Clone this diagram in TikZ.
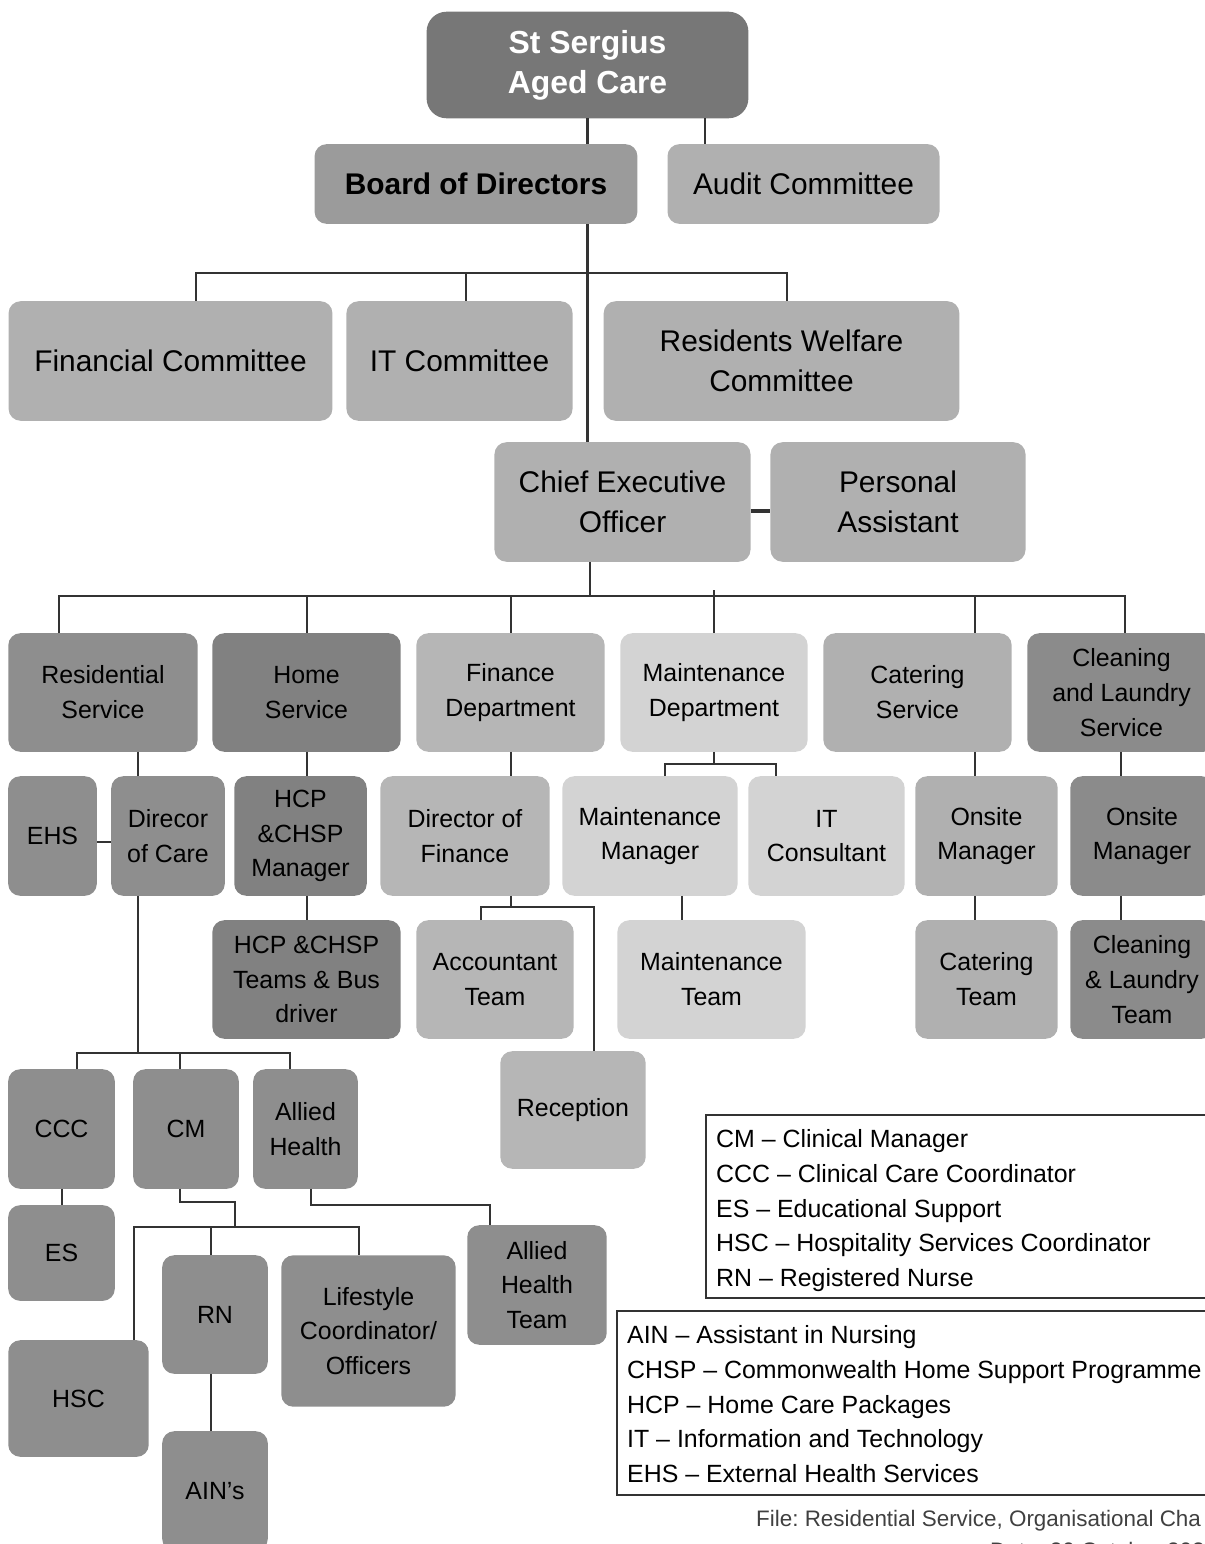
\documentclass[tikz,border=0pt]{standalone}
\usepackage{fontspec}
\setmainfont{Liberation Sans}
\usetikzlibrary{calc}
\frenchspacing

\definecolor{titlegray}{HTML}{777777}
\definecolor{boardgray}{HTML}{9B9B9B}
\definecolor{lightgray}{HTML}{B0B0B0}
\definecolor{resgray}{HTML}{8E8E8E}
\definecolor{homegray}{HTML}{818181}
\definecolor{fingray}{HTML}{B6B6B6}
\definecolor{maintgray}{HTML}{D3D3D3}
\definecolor{cleangray}{HTML}{8B8B8B}
\definecolor{linegray}{HTML}{333333}

\newcommand{\bigtext}{\fontsize{30}{40}\selectfont}
\newcommand{\smalltext}{\fontsize{25}{35}\selectfont}

\begin{document}
\begin{tikzpicture}[x=1bp, y=-1bp,
  box/.style={rounded corners=12, inner sep=0pt, align=center, text=black, font=\smalltext},
  bigbox/.style={box, font=\bigtext},
  link/.style={draw=linegray, line width=2.4},
  legend/.style={anchor=base west, inner sep=0pt, font=\smalltext}]

\useasboundingbox (0,0) rectangle (1204,1544);

% Top of the chart
\node[bigbox, fill=titlegray, text=white, font=\fontsize{32}{40}\selectfont\bfseries, rounded corners=20,
  minimum width=323, minimum height=107] (root) at (587.5,65) {St Sergius\\Aged Care};
\node[bigbox, fill=boardgray, font=\bigtext\bfseries, minimum width=324, minimum height=80] (board) at (476,184) {Board of Directors};
\node[bigbox, fill=lightgray, minimum width=273, minimum height=80] (audit) at (803.5,184) {Audit Committee};

% Committees
\node[bigbox, fill=lightgray, minimum width=325, minimum height=120] (fincom) at (170.5,361) {Financial Committee};
\node[bigbox, fill=lightgray, minimum width=227, minimum height=120] (itcom) at (459.5,361) {IT Committee};
\node[bigbox, fill=lightgray, minimum width=357, minimum height=120] (welfare) at (781.5,361) {Residents Welfare\\Committee};

% CEO and assistant
\node[bigbox, fill=lightgray, minimum width=257, minimum height=120] (ceo) at (622.5,502) {Chief Executive\\Officer};
\node[bigbox, fill=lightgray, minimum width=256, minimum height=120] (pa) at (898,502) {Personal\\Assistant};

% Departments
\node[box, fill=resgray, minimum width=190, minimum height=119] (res) at (103,692.5) {Residential\\Service};
\node[box, fill=homegray, minimum width=189, minimum height=119] (home) at (306.5,692.5) {Home\\Service};
\node[box, fill=fingray, minimum width=189, minimum height=119] (findep) at (510.5,692.5) {Finance\\Department};
\node[box, fill=maintgray, minimum width=188, minimum height=119] (mntdep) at (714,692.5) {Maintenance\\Department};
\node[box, fill=lightgray, minimum width=189, minimum height=119] (cat) at (917.5,692.5) {Catering\\Service};
\node[box, fill=cleangray, minimum width=189, minimum height=119] (cln) at (1121.5,692.5) {Cleaning\\and Laundry\\Service};

% Managers
\node[box, fill=resgray, minimum width=89, minimum height=120] (ehs) at (52.5,836) {EHS};
\node[box, fill=resgray, minimum width=114, minimum height=120] (doc) at (168,836) {Direcor\\of Care};
\node[box, fill=homegray, minimum width=133, minimum height=120] (hcpm) at (300.5,836) {HCP\\\&CHSP\\Manager};
\node[box, fill=fingray, minimum width=170, minimum height=120] (dof) at (465,836) {Director of\\Finance};
\node[box, fill=maintgray, minimum width=176, minimum height=120] (mntm) at (650,836) {Maintenance\\Manager};
\node[box, fill=maintgray, minimum width=157, minimum height=120] (itc) at (826.5,836) {IT\\Consultant};
\node[box, fill=lightgray, minimum width=143, minimum height=120] (onc) at (986.5,836) {Onsite\\Manager};
\node[box, fill=cleangray, minimum width=144, minimum height=120] (onl) at (1142,836) {Onsite\\Manager};

% Teams
\node[box, fill=homegray, minimum width=189, minimum height=119] (hcpt) at (306.5,979.5) {HCP \&CHSP\\Teams \& Bus\\driver};
\node[box, fill=fingray, minimum width=158, minimum height=119] (acct) at (495,979.5) {Accountant\\Team};
\node[box, fill=fingray, minimum width=146, minimum height=118] (rec) at (573,1110) {Reception};
\node[box, fill=maintgray, minimum width=189, minimum height=119] (mntt) at (711.5,979.5) {Maintenance\\Team};
\node[box, fill=lightgray, minimum width=143, minimum height=119] (catt) at (986.5,979.5) {Catering\\Team};
\node[box, fill=cleangray, minimum width=144, minimum height=119] (clnt) at (1142,979.5) {Cleaning\\\& Laundry\\Team};

% Residential care staff
\node[box, fill=resgray, minimum width=107, minimum height=120] (ccc) at (61.5,1129) {CCC};
\node[box, fill=resgray, minimum width=106, minimum height=120] (cm) at (186,1129) {CM};
\node[box, fill=resgray, minimum width=105, minimum height=120] (ah) at (305.5,1129) {Allied\\Health};
\node[box, fill=resgray, minimum width=107, minimum height=96] (es) at (61.5,1253) {ES};
\node[box, fill=resgray, minimum width=141, minimum height=117] (hsc) at (78.5,1398.5) {HSC};
\node[box, fill=resgray, minimum width=106, minimum height=119] (rn) at (215,1314.5) {RN};
\node[box, fill=resgray, minimum width=106, minimum height=120] (ains) at (215,1491) {AIN’s};
\node[box, fill=resgray, minimum width=175, minimum height=152] (life) at (368.5,1331) {Lifestyle\\Coordinator/\\Officers};
\node[box, fill=resgray, minimum width=140, minimum height=120] (aht) at (537,1285) {Allied\\Health\\Team};

% Upper connectors
\draw[link] (root.south) -- (root.south |- board.north);
\draw[link] (root.south -| 705,0) -- (audit.north -| 705,0);
\draw[link] (board.south -| root.south) -- (ceo.north -| root.south);
\draw[link] (fincom.north -| 196,0) -- (196,273) -- (787,273) -- (welfare.north -| 787,0);
\draw[link] (466,273) -- (itcom.north -| 466,0);
\draw[link, line width=4] ([yshift=-9]ceo.east) -- ([yshift=-9]pa.west);

% Department bar
\draw[link] (ceo.south -| 590,0) -- (590,596);
\draw[link] (res.north -| 59,0) -- (59,596) -- (1125,596) -- (cln.north -| 1125,0);
\draw[link] (307,596) -- (home.north -| 307,0);
\draw[link] (511,596) -- (findep.north -| 511,0);
\draw[link] (714,590) -- (mntdep.north);
\draw[link] (975,596) -- (cat.north -| 975,0);

% Departments to managers
\draw[link] (res.south -| 138,0) -- (doc.north -| 138,0);
\draw[link] ([yshift=-6]ehs.east) -- ([yshift=-6]doc.west);
\draw[link] (home.south -| 307,0) -- (hcpm.north -| 307,0);
\draw[link] (findep.south -| 511,0) -- (dof.north -| 511,0);
\draw[link] (mntdep.south) -- (714,764);
\draw[link] (mntm.north -| 665,0) -- (665,764) -- (776,764) -- (itc.north -| 776,0);
\draw[link] (cat.south -| 975,0) -- (onc.north -| 975,0);
\draw[link] (cln.south -| 1121,0) -- (onl.north -| 1121,0);

% Managers to teams
\draw[link] (hcpm.south -| 307,0) -- (hcpt.north -| 307,0);
\draw[link] (dof.south -| 511,0) -- (511,907);
\draw[link] (acct.north -| 481,0) -- (481,907) -- (594,907) -- (rec.north -| 594,0);
\draw[link] (mntm.south -| 682,0) -- (mntt.north -| 682,0);
\draw[link] (onc.south -| 975,0) -- (catt.north -| 975,0);
\draw[link] (onl.south -| 1121,0) -- (clnt.north -| 1121,0);

% Residential branch
\draw[link] (doc.south -| 138,0) -- (138,1053);
\draw[link] (ccc.north -| 77,0) -- (77,1053) -- (290,1053) -- (ah.north -| 290,0);
\draw[link] (180,1053) -- (cm.north -| 180,0);
\draw[link] (ccc.south -| 62,0) -- (es.north -| 62,0);
\draw[link] (cm.south -| 180,0) -- (180,1202) -- (235,1202) -- (235,1227);
\draw[link] (hsc.north -| 134,0) -- (134,1227) -- (359,1227) -- (life.north -| 359,0);
\draw[link] (211,1227) -- (rn.north -| 211,0);
\draw[link] (rn.south -| 211,0) -- (ains.north -| 211,0);
\draw[link] (ah.south -| 311,0) -- (311,1205) -- (490,1205) -- (aht.north -| 490,0);

% Legend boxes
\draw[linegray, line width=2.4] (706,1115) rectangle (1214,1298);
\node[legend] (leg1) at (716,1147) {CM – Clinical Manager};
\node[legend] (leg2) at (716,1182) {CCC – Clinical Care Coordinator};
\node[legend] (leg3) at (716,1217) {ES – Educational Support};
\node[legend] (leg4) at (716,1251) {HSC – Hospitality Services Coordinator};
\node[legend] (leg5) at (716,1286) {RN – Registered Nurse};

\draw[linegray, line width=2.4] (617,1311) rectangle (1214,1495);
\node[legend] (leg6) at (627,1343) {AIN – Assistant in Nursing};
\node[legend] (leg7) at (627,1378) {CHSP – Commonwealth Home Support Programme};
\node[legend] (leg8) at (627,1413) {HCP – Home Care Packages};
\node[legend] (leg9) at (627,1447) {IT – Information and Technology};
\node[legend] (leg10) at (627,1482) {EHS – External Health Services};

% File note
\node[anchor=base west, inner sep=0pt, text=black!75, font=\fontsize{22.5}{26}\selectfont] (file) at (756,1526) {File: Residential Service, Organisational Cha};
\node[anchor=base west, inner sep=0pt, text=black!75, font=\fontsize{22.5}{26}\selectfont] (date) at (990,1558) {Date: 20 October 202};

\end{tikzpicture}
\end{document}
